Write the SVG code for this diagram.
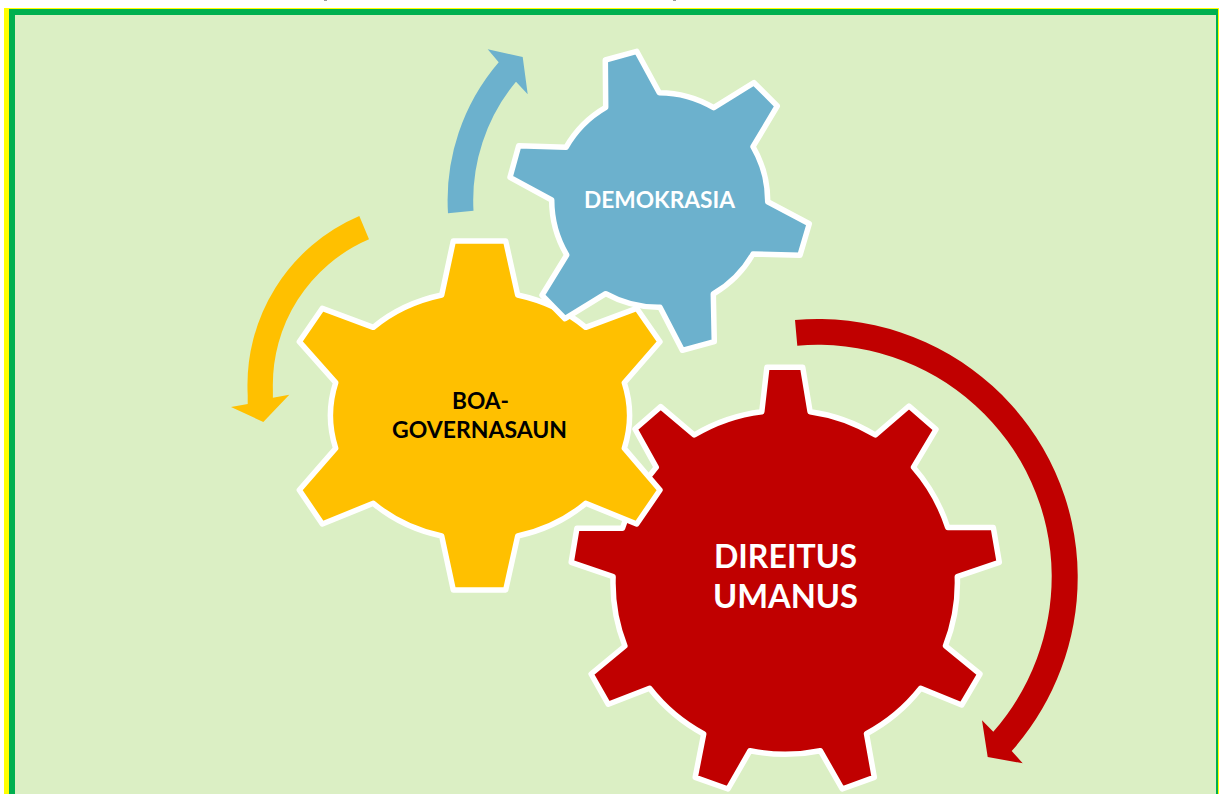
<svg xmlns="http://www.w3.org/2000/svg" width="1219" height="794" viewBox="0 0 1219 794">
<style>
.gear{stroke:#fff;stroke-width:5.5;stroke-linejoin:round}
.t{font-family:"Lato","Noto Sans","Liberation Sans",sans-serif;font-weight:700;text-anchor:middle}
.s{font-size:22px}
.l{font-size:32.4px}
.w{fill:#fff}
.k{fill:#000}
</style>
<g id="frame">
<rect x="0" y="0" width="1219" height="794" fill="#fff"/>
<rect x="4" y="8" width="1215" height="786" fill="#ffff00"/>
<rect x="9" y="9" width="1209" height="785" fill="#00b050"/>
<rect x="15" y="15" width="1201" height="779" fill="#dbefc4"/>
<rect x="324" y="0" width="3" height="1" fill="#999"/>
<rect x="673" y="0" width="3" height="1" fill="#999"/>
</g>
<g id="connectors">
<path id="arrow-blue" fill="#6cb1cd" d="M448 213.3A212 212 0 0 1 498.7 62.3L487.7 49.3L522.7 57L527.7 94.3L516 81.7A186 186 0 0 0 473.5 210.7Z"/>
<path id="arrow-gold" fill="#ffc000" d="M359.3 216A184 184 0 0 0 247.7 395L247.7 404L231 407L263.3 422L289.3 394.7L272.9 397.7L272.9 390A158.5 158.5 0 0 1 369 239.3Z"/>
<path id="arrow-red" fill="#c00000" d="M795 320A260 258 0 0 1 1077.7 575A262 262 0 0 1 1011.7 751L1022.7 763.3L987.7 757L982 720.3L993.3 731.7A236 236 0 0 0 1051.7 575A234 232 0 0 0 797.3 345.7Z"/>
</g>
<g id="node-direitus">
<path class="gear" fill="#c00000" d="M766.9 367.3L802.7 367.3L810.1 411.7A172 172 0 0 1 875.4 435L909 406L936 429.3L913.5 467.2A172 172 0 0 1 947.7 527.5L993.3 527.5L999.3 562.3L957.3 576.7A172 172 0 0 1 945.5 645.8L980 674L961.7 705L920.7 688.3A172 172 0 0 1 866.5 733.7L874.3 777.3L842.2 789L820.3 750.7A172 172 0 0 1 750 750.7L728 789L695.2 777.3L703.7 734A172 172 0 0 1 649.6 688.3L608.3 704.3L591.1 674L624.9 646A172 172 0 0 1 613.1 576.7L571.2 562.3L576.9 528.3L622.5 528.3A172 172 0 0 1 656.3 467.3L635 429L660.7 406.7L694.2 435A172 172 0 0 1 761.8 411.7Z"/>
<text class="t l w" x="785.5" y="568.3" textLength="143" lengthAdjust="spacingAndGlyphs">DIREITUS</text>
<text class="t l w" x="785.5" y="608.3" textLength="145" lengthAdjust="spacingAndGlyphs">UMANUS</text>
</g>
<g id="node-boa-governasaun">
<path class="gear" fill="#ffc000" d="M453.3 241L505.7 241L517.7 295A149 125 0 0 1 585.7 327.3L636.7 308.3L660 341.7L624.3 382.7A149 125 0 0 1 624.3 448.3L660 490L636.7 524L585.7 503.3A149 125 0 0 1 517.7 536L505.7 590L453.3 590L441.7 536A149 125 0 0 1 373.3 503.3L322.3 524L299.3 490L335.7 448.3A149 125 0 0 1 335.7 382.7L299.3 341.7L322.3 308.3L373.3 327.3A149 125 0 0 1 441.7 295Z"/>
<text class="t s k" x="480.5" y="408.8" textLength="57" lengthAdjust="spacingAndGlyphs">BOA-</text>
<text class="t s k" x="479.5" y="437.8" textLength="175" lengthAdjust="spacingAndGlyphs">GOVERNASAUN</text>
</g>
<g id="node-demokrasia">
<path class="gear" fill="#6cb1cd" d="M605.3 60L636.7 51.3L659.3 92.7A108 108 0 0 1 713.7 107.7L754 82.7L777.3 106L753 146.7A108 108 0 0 1 767.7 201.7L809.3 223.7L800 255.3L753 254A108 108 0 0 1 713.3 294L714.3 341.7L682.3 350.3L660 307.3A108 108 0 0 1 605.7 293.7L565 318.7L542 295.3L566.7 255A108 108 0 0 1 551.7 200L510 177.3L518.7 145.7L566 147.3A108 108 0 0 1 605.7 107.3Z"/>
<text class="t s w" x="659.5" y="207.8" textLength="151" lengthAdjust="spacingAndGlyphs">DEMOKRASIA</text>
</g>
</svg>
